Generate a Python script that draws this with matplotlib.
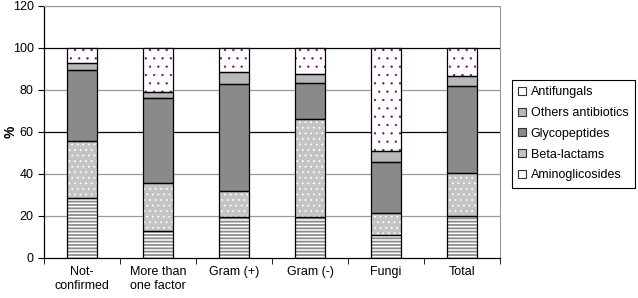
import matplotlib.pyplot as plt
import numpy as np
from matplotlib.patches import Patch

plt.rcParams['font.family'] = ['Liberation Sans', 'DejaVu Sans']

# data (percent of each group)
groups = ['Not-\nconfirmed', 'More than\none factor', 'Gram (+)', 'Gram (-)', 'Fungi', 'Total']
aminoglicosides = [28.4, 12.9, 19.7, 19.5, 10.8, 20.0]
beta_lactams = [27.3, 23.0, 12.2, 46.5, 10.8, 20.3]
glycopeptides = [33.8, 40.1, 50.8, 17.5, 24.0, 41.6]
others = [3.2, 3.2, 5.7, 4.1, 5.5, 4.8]
antifungals = [7.3, 20.8, 11.6, 12.4, 48.9, 13.3]

# name, values, face, hatch, hatch colour, hatch line width
series = [('Aminoglicosides', aminoglicosides, 'white', '-----', '#8c8c8c', 1.3),
          ('Beta-lactams', beta_lactams, '#c4c4c4', '...', 'white', 0.6),
          ('Glycopeptides', glycopeptides, '#8a8a8a', None, '#8a8a8a', 1.0),
          ('Others antibiotics', others, '#b8b8b8', None, '#b8b8b8', 1.0),
          ('Antifungals', antifungals, 'white', '..', '#800080', 0.4)]

fig = plt.figure(figsize=(6.38, 2.98), dpi=100)
ax = fig.add_axes([44 / 638, 40 / 298, 456 / 638, 252 / 298])

x = np.arange(len(groups))
w = 0.4
bottom = np.zeros(len(groups))
handles = []
for name, vals, fc, hatch, hc, hlw in series:
    vals = np.array(vals)
    with plt.rc_context({'hatch.linewidth': hlw}):
        ax.bar(x, vals, w, bottom=bottom, color=fc, hatch=hatch, edgecolor=hc, linewidth=0, zorder=3)
    ax.bar(x, vals, w, bottom=bottom, fill=False, edgecolor='black', linewidth=0.9, zorder=4)
    bottom += vals
    handles.append(Patch(facecolor=fc, edgecolor='#333333', linewidth=0.8,
                         label=name))

ax.set_ylim(0, 120)
ax.set_xlim(-0.5, len(groups) - 0.5)
ax.set_yticks(range(0, 121, 20))
for v in range(20, 121, 20):
    col = 'black' if v in (60, 100) else '#9a9a9a'
    ax.axhline(v, color=col, linewidth=0.9, zorder=1)

ax.set_xticks(x)
ax.set_xticklabels(groups, fontsize=9)
ax.tick_params(axis='x', which='major', length=0, pad=6)
ax.set_xticks(np.arange(-0.5, len(groups), 1), minor=True)
ax.tick_params(axis='x', which='minor', length=4, direction='out')
ax.tick_params(axis='y', labelsize=9, length=4, direction='out')
ax.set_ylabel('%', fontsize=10, fontweight='bold')
ax.yaxis.set_label_coords(-26 / 456, 0.5)

ax.spines['top'].set_color('#9a9a9a')
ax.spines['right'].set_color('#9a9a9a')
for s in ['left', 'bottom']:
    ax.spines[s].set_color('black')
    ax.spines[s].set_linewidth(0.9)

leg = fig.legend(handles=handles[::-1], loc='upper left', bbox_to_anchor=(512 / 638, 1 - 80 / 298),
                 fontsize=9, handlelength=0.6, handleheight=0.6, handletextpad=0.4,
                 labelspacing=0.7, borderpad=0.5, borderaxespad=0, fancybox=False,
                 edgecolor='black', framealpha=1)
leg.get_frame().set_linewidth(0.8)

plt.savefig('out.png', dpi=100)
